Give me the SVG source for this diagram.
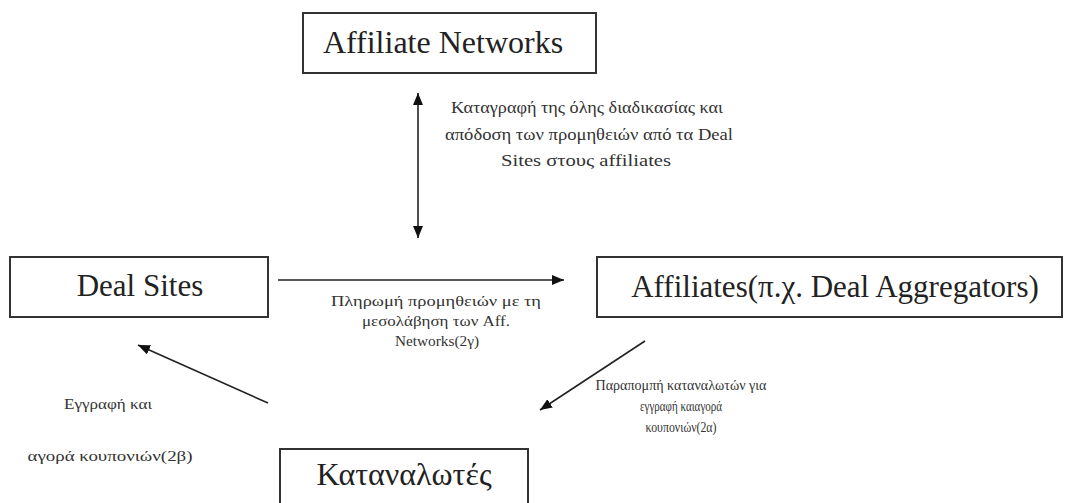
<svg xmlns="http://www.w3.org/2000/svg" width="1072" height="503" viewBox="0 0 1072 503">
<defs>
<marker id="ah" markerWidth="12" markerHeight="10" refX="12" refY="5" orient="auto-start-reverse" markerUnits="userSpaceOnUse">
<path d="M0,0 L12,5 L0,10 Z" fill="#111"/>
</marker>
<style>
.box{fill:#fff;stroke:#333;stroke-width:2}
.big{font-family:"Liberation Serif","DejaVu Serif",serif;fill:#222;text-anchor:middle}
.lbl{font-family:"Liberation Serif","DejaVu Serif",serif;fill:#333;text-anchor:middle}
.ln{stroke:#222;stroke-width:1.6;fill:none}
</style>
</defs>
<rect width="1072" height="503" fill="#fff"/>
<g id="affiliate-networks">
<rect class="box" x="303" y="13" width="293" height="60"/>
<text class="big" x="443" y="53" font-size="32">Affiliate Networks</text>
</g>
<g id="deal-sites">
<rect class="box" x="10" y="257" width="258" height="60"/>
<text class="big" x="140" y="296" font-size="31">Deal Sites</text>
</g>
<g id="affiliates">
<rect class="box" x="597" y="257" width="465" height="60"/>
<text class="big" x="835" y="297" font-size="31">Affiliates(π.χ. Deal Aggregators)</text>
</g>
<g id="katanalotes">
<rect class="box" x="280" y="449" width="248" height="70"/>
<text class="big" x="404" y="485" font-size="32">Καταναλωτές</text>
</g>
<g id="connectors">
<line class="ln" x1="418" y1="93" x2="418" y2="238" marker-start="url(#ah)" marker-end="url(#ah)"/>
<line class="ln" x1="278" y1="280" x2="564" y2="280" marker-end="url(#ah)"/>
<line class="ln" x1="645" y1="341" x2="540" y2="410" marker-end="url(#ah)"/>
<line class="ln" x1="268" y1="403" x2="138" y2="345" marker-end="url(#ah)"/>
</g>
<g id="labels">
<text class="lbl" font-size="16" x="587" y="113" textLength="272" lengthAdjust="spacingAndGlyphs">Καταγραφή της όλης διαδικασίας και</text>
<text class="lbl" font-size="16" x="589" y="140" textLength="288" lengthAdjust="spacingAndGlyphs">απόδοση των προμηθειών από τα Deal</text>
<text class="lbl" font-size="16" x="586" y="166" textLength="170" lengthAdjust="spacingAndGlyphs">Sites στους affiliates</text>
<text class="lbl" font-size="15" x="436" y="306" textLength="210" lengthAdjust="spacingAndGlyphs">Πληρωμή προμηθειών με τη</text>
<text class="lbl" font-size="15" x="436" y="326" textLength="148" lengthAdjust="spacingAndGlyphs">μεσολάβηση των Aff.</text>
<text class="lbl" font-size="15" x="437" y="346" textLength="84" lengthAdjust="spacingAndGlyphs">Networks(2γ)</text>
<text class="lbl" font-size="14" x="681" y="390" textLength="171" lengthAdjust="spacingAndGlyphs">Παραπομπή καταναλωτών για</text>
<text class="lbl" font-size="14" x="681" y="411" textLength="82" lengthAdjust="spacingAndGlyphs">εγγραφή καιαγορά</text>
<text class="lbl" font-size="14" x="681" y="432" textLength="71" lengthAdjust="spacingAndGlyphs">κουπονιών(2α)</text>
<text class="lbl" font-size="15" x="108" y="409" textLength="88" lengthAdjust="spacingAndGlyphs">Εγγραφή και</text>
<text class="lbl" font-size="15" x="110" y="461" textLength="165" lengthAdjust="spacingAndGlyphs">αγορά κουπονιών(2β)</text>
</g>
</svg>
